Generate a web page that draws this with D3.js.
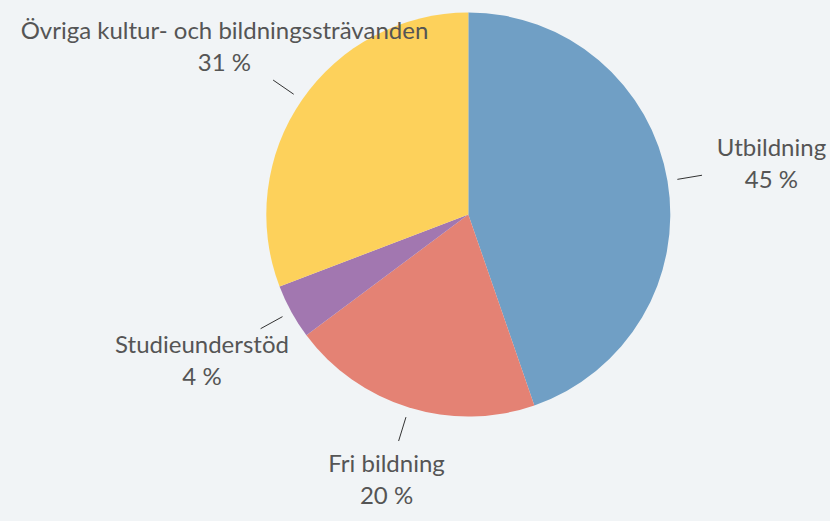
<!DOCTYPE html>
<html>
<head>
<meta charset="utf-8">
<script src="https://cdn.jsdelivr.net/npm/d3@7"></script>
<style>
  html, body { margin: 0; padding: 0; background: #f1f4f6; }
  #chart { width: 830px; height: 521px; }
  text { font-family: "Source Sans Pro", Lato, "Noto Sans", sans-serif; fill: #555; }
</style>
</head>
<body>
<div id="chart"></div>
<script>
// data
var categories = ['Utbildning', 'Fri bildning', 'Studieunderstöd', 'Övriga kultur- och bildningssträvanden'];
var values = [44.7, 20.1, 4.4, 30.8];
var percentLabels = ['45 %', '20 %', '4 %', '31 %'];
var colors = ['#709fc5', '#e48274', '#a277b0', '#fdd15b'];

var width = 830, height = 521,
    cx = 468.3, cy = 214.5,
    radius = 202;

var svg = d3.select('#chart').append('svg')
    .attr('width', width)
    .attr('height', height);

var g = svg.append('g')
    .attr('transform', 'translate(' + cx + ',' + cy + ')');

var data = categories.map(function(c, i) {
    return { name: c, value: values[i], label: percentLabels[i], color: colors[i] };
});

var pie = d3.pie().sort(null).value(function(d) { return d.value; });
var arc = d3.arc().innerRadius(0).outerRadius(radius);

var arcs = pie(data);

g.selectAll('path.slice')
    .data(arcs).enter().append('path')
    .attr('class', 'slice')
    .attr('d', arc)
    .attr('fill', function(d) { return d.data.color; });

// leader lines
var lineStart = radius + 10, lineEnd = radius + 35;
function dir(d) {
    var a = (d.startAngle + d.endAngle) / 2;
    return [Math.sin(a), -Math.cos(a)];
}

g.selectAll('line.leader')
    .data(arcs).enter().append('line')
    .attr('class', 'leader')
    .attr('x1', function(d) { return dir(d)[0] * lineStart; })
    .attr('y1', function(d) { return dir(d)[1] * lineStart; })
    .attr('x2', function(d) { return dir(d)[0] * lineEnd; })
    .attr('y2', function(d) { return dir(d)[1] * lineEnd; })
    .attr('stroke', '#333')
    .attr('stroke-width', 1);

// labels: box pushed outward so its edge touches the line end
var fontSize = 24, lineH = 32, gap = 15;
var labels = g.selectAll('g.label')
    .data(arcs).enter().append('g')
    .attr('class', 'label');

labels.append('text')
    .attr('text-anchor', 'middle')
    .style('font-size', fontSize + 'px')
    .attr('y', -8)
    .text(function(d) { return d.data.name; });

labels.append('text')
    .attr('text-anchor', 'middle')
    .style('font-size', fontSize + 'px')
    .attr('y', -8 + lineH)
    .text(function(d) { return d.data.label; });

labels.attr('transform', function(d) {
    var w = 0;
    d3.select(this).selectAll('text').each(function() {
        w = Math.max(w, this.getComputedTextLength());
    });
    var hw = w / 2, hh = 25;
    var u = dir(d);
    var t = Math.min(Math.abs(u[0]) > 1e-6 ? hw / Math.abs(u[0]) : Infinity,
                     Math.abs(u[1]) > 1e-6 ? hh / Math.abs(u[1]) : Infinity);
    var dist = t + gap;
    var x = u[0] * (lineEnd + dist), y = u[1] * (lineEnd + dist);
    return 'translate(' + x + ',' + y + ')';
});
</script>
</body>
</html>
